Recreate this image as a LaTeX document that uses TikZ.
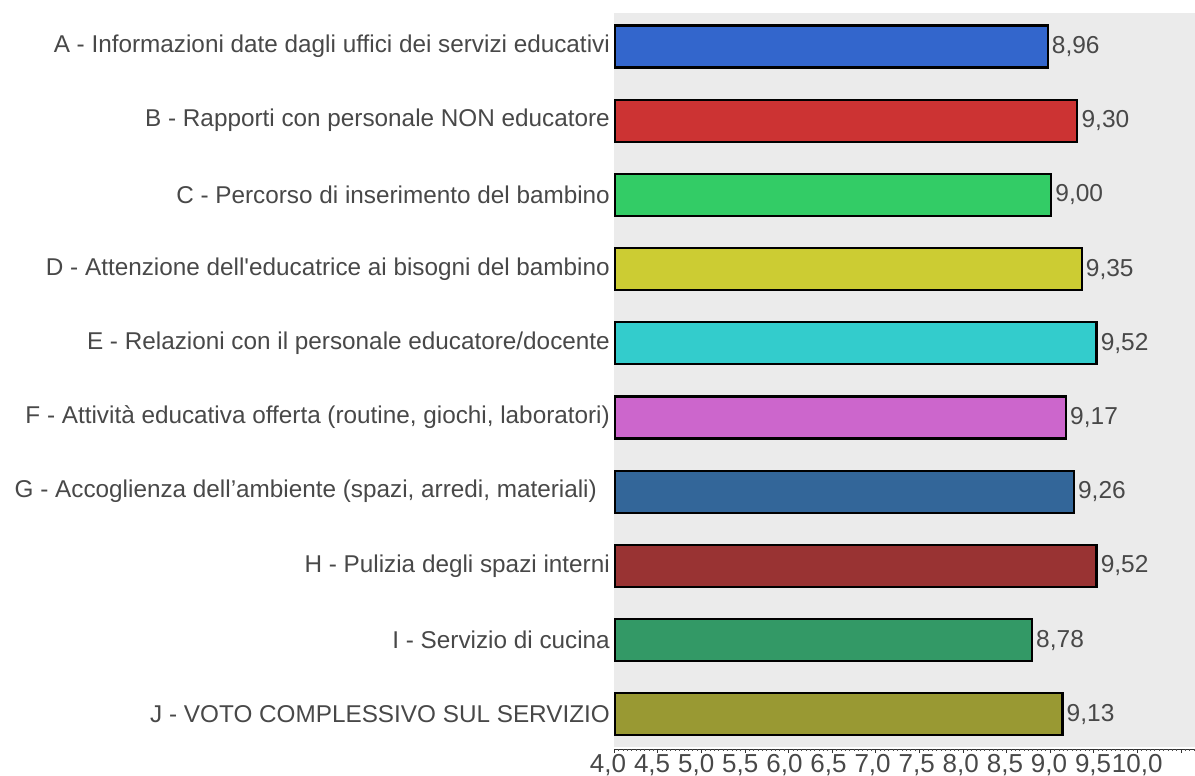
\documentclass[tikz,border=0pt]{standalone}
\usepackage{fontspec}
\setmainfont{Liberation Sans}
\definecolor{bggray}{RGB}{235,235,235}
\definecolor{txtgray}{RGB}{72,72,72}
\definecolor{colA}{RGB}{51,102,204}
\definecolor{colB}{RGB}{204,51,51}
\definecolor{colC}{RGB}{51,204,102}
\definecolor{colD}{RGB}{204,204,51}
\definecolor{colE}{RGB}{51,204,204}
\definecolor{colF}{RGB}{204,102,204}
\definecolor{colG}{RGB}{51,102,153}
\definecolor{colH}{RGB}{153,51,51}
\definecolor{colI}{RGB}{51,153,102}
\definecolor{colJ}{RGB}{153,153,51}
\begin{document}
\begin{tikzpicture}[x=1pt,y=-1pt,
  bar/.style={draw=black,line width=2.2pt,rectangle,inner sep=0pt,minimum height=42pt},
  val/.style={text=txtgray,font=\fontsize{24.5}{28}\selectfont,inner sep=3pt},
  lab/.style={text=txtgray,font=\fontsize{24.3}{28}\selectfont,inner sep=0pt},
  ticklab/.style={text=txtgray,font=\fontsize{26}{30}\selectfont,inner sep=0pt},
  axisline/.style={draw=black!80,line width=0.6pt}]
\useasboundingbox (0,0) rectangle (1195,776);
\fill[bggray] (614,13) rectangle (1195,747);
\foreach \n/\v/\vt/\c/\lx/\lab [count=\i from 0] in {
  A/8.96/{8,96}/colA/610/{A - Informazioni date dagli uffici dei servizi educativi},
  B/9.30/{9,30}/colB/610/{B - Rapporti con personale NON educatore},
  C/9.00/{9,00}/colC/610/{C - Percorso di inserimento del bambino},
  D/9.35/{9,35}/colD/610/{D - Attenzione dell\textquotesingle educatrice ai bisogni del bambino},
  E/9.52/{9,52}/colE/610/{E - Relazioni con il personale educatore/docente},
  F/9.17/{9,17}/colF/610/{F - Attività educativa offerta (routine, giochi, laboratori)},
  G/9.26/{9,26}/colG/597/{G - Accoglienza dell’ambiente (spazi, arredi, materiali)},
  H/9.52/{9,52}/colH/610/{H - Pulizia degli spazi interni},
  I/8.78/{8,78}/colI/610/{I - Servizio di cucina},
  J/9.13/{9,13}/colJ/610/{J - VOTO COMPLESSIVO SUL SERVIZIO}}
{
  \pgfmathsetmacro\w{(\v-4)*87.2}
  \pgfmathsetmacro\yy{46.5+74.2*\i}
  \node[bar,fill=\c,minimum width=\w pt,anchor=west] (bar\n) at (614,\yy) {};
  \node[val,anchor=west] (val\n) at (bar\n.east) {\vt};
  \node[lab,anchor=east] (lab\n) at (\lx,\yy) {\lab};
}
\coordinate (axL) at (614,749);
\coordinate (axR) at (1195,749);
\draw[axisline] (axL) -- (axR);
\foreach \k in {0,...,133} \draw[black!70,line width=0.4pt] (614+\k*4.36,749) -- ++(0,1.8);
\foreach \k in {0,...,13} \draw[black!80,line width=0.6pt] (614+\k*43.6,749) -- ++(0,3.5);
\foreach \k/\t in {0/{4,0},1/{4,5},2/{5,0},3/{5,5},4/{6,0},5/{6,5},6/{7,0},7/{7,5},8/{8,0},9/{8,5},10/{9,0},11/{9,5},12/{10,0}}
  \node[ticklab] (tick\k) at (608+44.1*\k,765) {\t};
\end{tikzpicture}
\end{document}
